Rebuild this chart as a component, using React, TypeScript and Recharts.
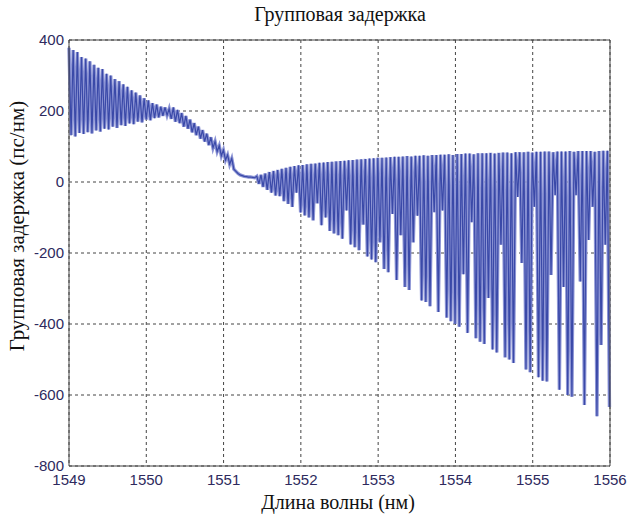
import { LineChart, Line, XAxis, YAxis, CartesianGrid, ReferenceLine } from "recharts";

const wavelengthStart = 1549;
const wavelengthStep = 0.027;
const groupDelay = [
  // 1549.0 .. 1550.3
  378, 132, 372, 128, 366, 138, 352, 135, 348, 140,
  340, 137, 330, 145, 322, 142, 318, 150, 305, 148,
  300, 156, 290, 152, 284, 160, 275, 158, 268, 165,
  258, 163, 252, 170, 244, 168, 236, 176, 230, 174,
  222, 180, 218, 182, 212, 186, 210, 188, 206,
  // 1550.3 .. 1551.4
  178, 210, 170, 203, 166, 194, 156, 186, 150, 176,
  140, 166, 132, 156, 122, 146, 114, 136, 104, 126,
  96, 114, 86, 102, 74, 90, 62, 76, 50, 66,
  36, 30, 24, 20, 18, 16, 15, 14, 14, 13,
  12,
  // 1551.4 .. 1556.0
  16, -5, 20, -14, 24, -22, 28, -30, 31, -38,
  34, -40, 37, -54, 40, -62, 43, -70, 45, -30,
  47, -86, 48, -94, 50, -100, 51, -108, 52, -60,
  54, -122, 55, -100, 56, -138, 57, -145, 58, -150,
  59, -160, 60, -80, 61, -176, 62, -184, 63, -192,
  64, -120, 65, -210, 66, -218, 67, -226, 68, -170,
  68, -245, 69, -254, 70, -90, 71, -276, 71, -150,
  72, -296, 73, -304, 72, -170, 74, -95, 74, -334,
  75, -338, 74, -350, 76, -85, 76, -366, 77, -80,
  77, -382, 78, -392, 76, -400, 79, -408, 79, -260,
  80, -425, 80, -113, 78, -440, 81, -450, 81, -456,
  81, -327, 82, -472, 80, -480, 82, -177, 83, -494,
  83, -500, 81, -510, 84, -42, 84, -228, 84, -528,
  85, -536, 83, -70, 85, -550, 85, -560, 86, -562,
  86, -262, 84, -37, 86, -585, 86, -296, 86, -600,
  87, -605, 85, -37, 87, -280, 87, -628, 87, -163,
  87, -70, 85, -660, 87, -459, 88, -177, 88, -634,
];

const wavelengthTicks = [1549, 1550, 1551, 1552, 1553, 1554, 1555, 1556];
const delayTicks = [-800, -600, -400, -200, 0, 200, 400];

const title = "Групповая задержка";
const xTitle = "Длина волны (нм)";
const yTitle = "Групповая задержка (пс/нм)";

const data = groupDelay.map((v, i) => ({
  wl: +(wavelengthStart + i * wavelengthStep).toFixed(3),
  delay: v,
}));

const tickStyle = { fontSize: 15, fill: "#2e2a5e", fontFamily: "Liberation Sans, Arial, sans-serif" };
const serif = "Liberation Serif, 'Times New Roman', serif";

export default function App() {
  return (
    <div style={{ position: "absolute", left: 0, top: 0, width: 629, height: 519, background: "#fff" }}>
      <LineChart width={629} height={519} data={data} margin={{ top: 40, right: 19, bottom: 0, left: 0 }}>
        <CartesianGrid stroke="#444" strokeDasharray="3 3" />
        <XAxis
          dataKey="wl"
          type="number"
          domain={[1549, 1556]}
          ticks={wavelengthTicks}
          height={53}
          tickSize={0}
          tickMargin={8}
          tick={tickStyle}
          axisLine={{ stroke: "#444" }}
          interval={0}
        />
        <YAxis
          type="number"
          domain={[-800, 400]}
          ticks={delayTicks}
          width={69}
          tickSize={0}
          tickMargin={5}
          tick={tickStyle}
          axisLine={{ stroke: "#444" }}
          interval={0}
        />
        {/* soft halo under the trace, gives the filled look of the dense original */}
        <Line
          type="linear"
          dataKey="delay"
          stroke="#8d95d5"
          strokeWidth={3.4}
          dot={false}
          legendType="none"
          isAnimationActive={false}
        />
        <Line
          type="linear"
          dataKey="delay"
          stroke="#3a49a8"
          strokeWidth={1.2}
          dot={false}
          isAnimationActive={false}
        />
        <ReferenceLine x={1556} stroke="#444" strokeDasharray="0" />
        <ReferenceLine y={400} stroke="#444" strokeDasharray="0" />
      </LineChart>
      <svg width={629} height={519} style={{ position: "absolute", left: 0, top: 0, pointerEvents: "none" }}>
        <text x={340} y={21} textAnchor="middle" fontFamily={serif} fontSize={20} fill="#111">
          {title}
        </text>
        <text x={338} y={509} textAnchor="middle" fontFamily={serif} fontSize={20} fill="#111">
          {xTitle}
        </text>
        <text
          x={0}
          y={0}
          transform="translate(24,226) rotate(-90)"
          textAnchor="middle"
          fontFamily={serif}
          fontSize={21}
          fill="#111"
        >
          {yTitle}
        </text>
      </svg>
    </div>
  );
}
